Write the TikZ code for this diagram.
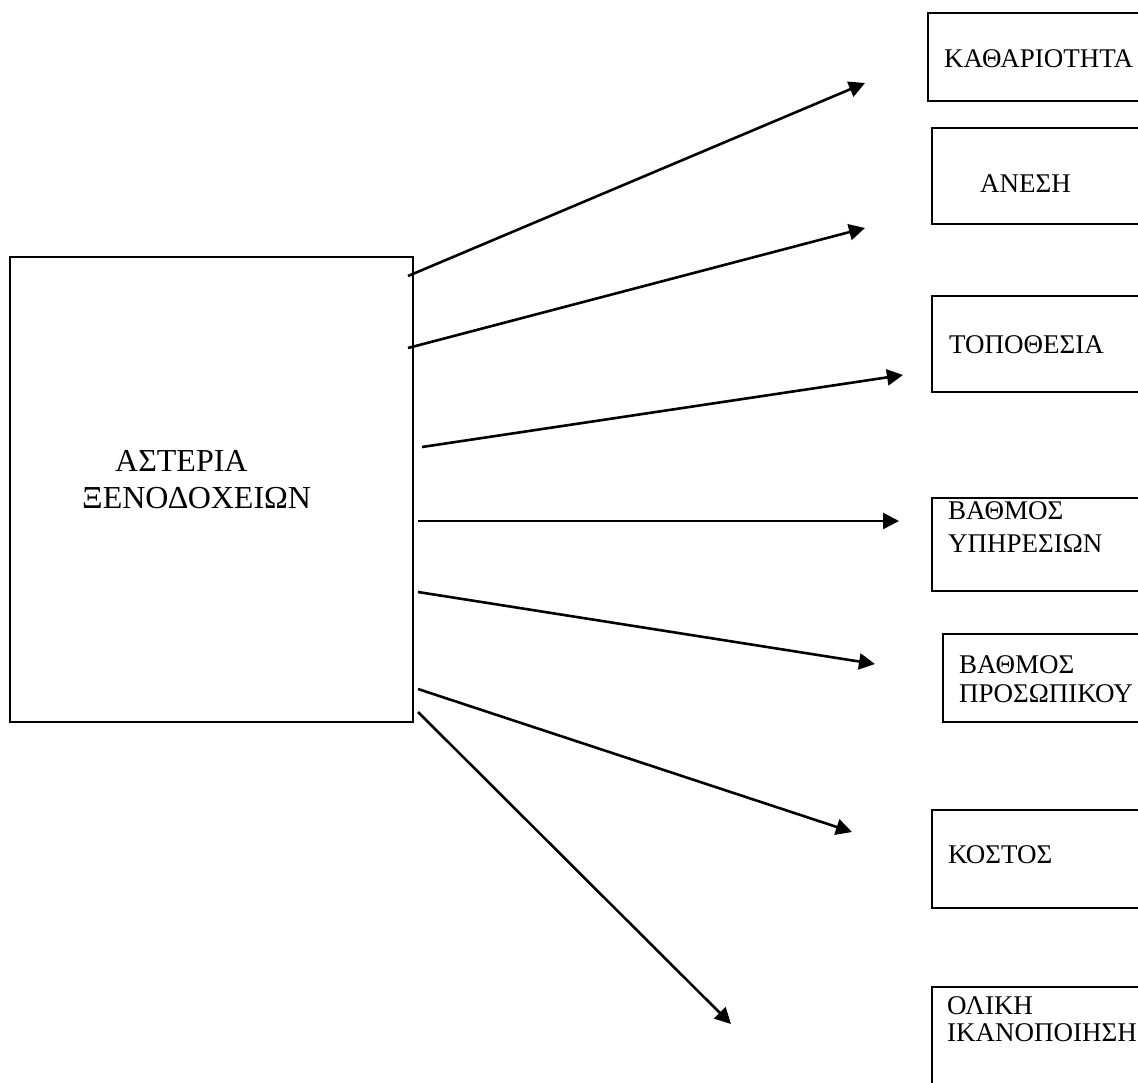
\documentclass[tikz,border=0pt]{standalone}
\usepackage{fontspec}
\setmainfont{Liberation Serif}
\usetikzlibrary{arrows.meta}
\begin{document}
\begin{tikzpicture}[x=1pt,y=-1pt,
  box/.style={draw,line width=2.6pt,rectangle,anchor=north west,inner sep=0pt,outer sep=0pt},
  lbl/.style={anchor=base west,inner sep=0pt,font=\fontsize{27}{32}\selectfont},
  biglbl/.style={anchor=base west,inner sep=0pt,font=\fontsize{32}{38}\selectfont},
  conn/.style={line width=2.6pt,-{Triangle[length=16pt,width=16pt]}}]
\useasboundingbox (0,0) rectangle (1138,1082);
\fill[white] (0,0) rectangle (1138,1082);
\clip (0,0) rectangle (1138,1082);
% main box
\node[box,minimum width=403pt,minimum height=465pt] (main) at (10,257) {};
\node[biglbl] (m1) at (115,471) {ΑΣΤΕΡΙΑ};
\node[biglbl] (m2) at (82,508) {ΞΕΝΟΔΟΧΕΙΩΝ};
% right boxes
\node[box,minimum width=240pt,minimum height=88pt] (b1) at (928,13) {};
\node[box,minimum width=240pt,minimum height=96pt] (b2) at (932,128) {};
\node[box,minimum width=240pt,minimum height=96pt] (b3) at (932,296) {};
\node[box,minimum width=240pt,minimum height=93pt] (b4) at (932,498) {};
\node[box,minimum width=240pt,minimum height=88pt] (b5) at (943,634) {};
\node[box,minimum width=240pt,minimum height=98pt] (b6) at (932,810) {};
\node[box,minimum width=240pt,minimum height=140pt] (b7) at (932,987) {};
% labels
\node[lbl] (t1) at (944,67) {ΚΑΘΑΡΙΟΤΗΤΑ};
\node[lbl] (t2) at (980,192) {ΑΝΕΣΗ};
\node[lbl] (t3) at (949,353) {ΤΟΠΟΘΕΣΙΑ};
\node[lbl] (t4a) at (948,519) {ΒΑΘΜΟΣ};
\node[lbl] (t4b) at (948,552) {ΥΠΗΡΕΣΙΩΝ};
\node[lbl] (t5a) at (959,673) {ΒΑΘΜΟΣ};
\node[lbl] (t5b) at (959,702) {ΠΡΟΣΩΠΙΚΟΥ};
\node[lbl] (t6) at (948,863) {ΚΟΣΤΟΣ};
\node[lbl] (t7a) at (947,1014) {ΟΛΙΚΗ};
\node[lbl] (t7b) at (947,1041) {ΙΚΑΝΟΠΟΙΗΣΗ};
% connector ends
\coordinate (s1) at (408,276);  \coordinate (e1) at (865,83);
\coordinate (s2) at (408,348);  \coordinate (e2) at (865,228);
\coordinate (s3) at (422,447);  \coordinate (e3) at (903,375);
\coordinate (s4) at (418,521);  \coordinate (e4) at (899,521);
\coordinate (s5) at (418,592);  \coordinate (e5) at (875,664);
\coordinate (s6) at (418,689);  \coordinate (e6) at (852,832);
\coordinate (s7) at (418,712);  \coordinate (e7) at (731,1024);
\foreach \i in {1,...,7} {\draw[conn] (s\i) -- (e\i);}
\end{tikzpicture}
\end{document}
